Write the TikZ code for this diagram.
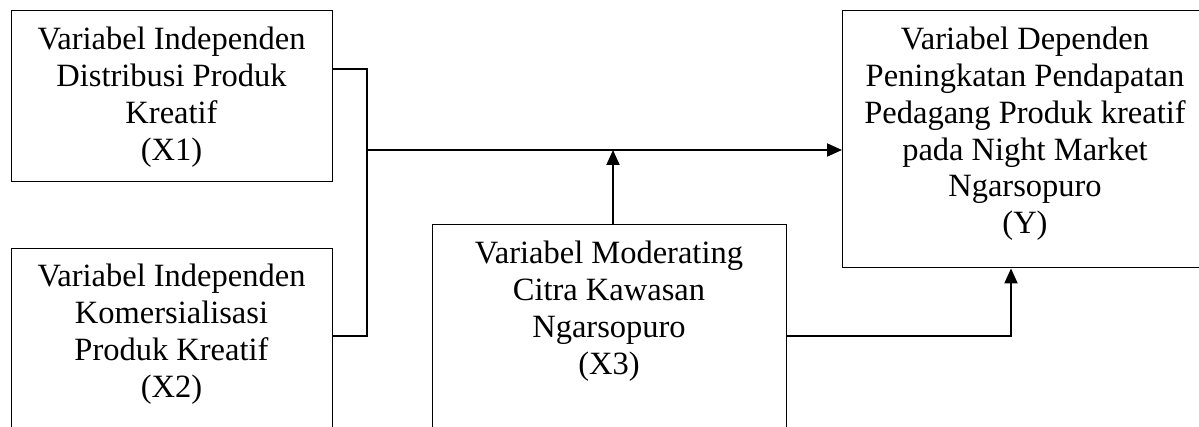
\documentclass[tikz,border=0pt]{standalone}
\usepackage{fontspec}
\setmainfont{Liberation Serif}
\usetikzlibrary{arrows.meta}
\begin{document}
\begin{tikzpicture}[x=1pt,y=-1pt,
  boxline/.style={draw=black,line width=1.4pt},
  lbl/.style={align=center,inner sep=0pt,font=\rmfamily\fontsize{32.5}{36.8}\selectfont},
  conn/.style={draw=black,line width=2pt},
  arr/.style={conn,-{Triangle[length=15pt,width=13pt]}}]
\useasboundingbox (0,0) rectangle (1199,427);
\clip (0,0) rectangle (1199,427);
% boxes
\node[boxline,minimum width=321pt,minimum height=171pt,inner sep=0pt,anchor=north west] (x1) at (11,10) {};
\node[boxline,minimum width=321pt,minimum height=240pt,inner sep=0pt,anchor=north west] (x2) at (11,248) {};
\node[boxline,minimum width=354pt,minimum height=240pt,inner sep=0pt,anchor=north west] (x3) at (432,224) {};
\node[boxline,minimum width=366pt,minimum height=257pt,inner sep=0pt,anchor=north west] (y) at (842,10) {};
% texts
\node[lbl,anchor=north] (x1t) at (171.5,27) {Variabel Independen\\Distribusi Produk\\Kreatif\\(X1)};
\node[lbl,anchor=north] (x2t) at (171.5,264) {Variabel Independen\\Komersialisasi\\Produk Kreatif\\(X2)};
\node[lbl,anchor=north] (x3t) at (609,241) {Variabel Moderating\\Citra Kawasan\\Ngarsopuro\\(X3)};
\node[lbl,anchor=north] (yt) at (1025,27) {Variabel Dependen\\Peningkatan Pendapatan\\Pedagang Produk kreatif\\pada Night Market\\Ngarsopuro\\(Y)};
% connectors
\coordinate (j) at (367,150);
\coordinate (m) at (613,150);
\draw[conn] (x1.east |- 0,69) -| (j) |- (x2.east |- 0,336);
\draw[arr] (j) -- (y.west |- j);
\draw[arr] (x3.north -| m) -- (m);
\draw[arr] (x3.east |- 0,336) -| (y.south -| 1011,0);
\end{tikzpicture}
\end{document}
